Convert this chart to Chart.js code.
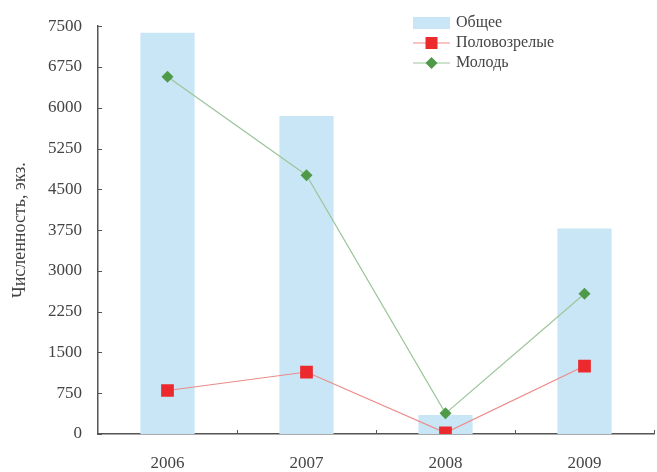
<!DOCTYPE html>
<html>
<head>
<meta charset="utf-8">
<script src="https://cdn.jsdelivr.net/npm/chart.js@4"></script>
<style>
  html, body { margin: 0; padding: 0; background: #fff; overflow: hidden; }
  #wrap { width: 657px; height: 472px; position: relative; overflow: hidden; }
</style>
</head>
<body>
<div id="wrap"><canvas id="chart" width="663" height="472"></canvas></div>
<script>
// data
const years = ['2006', '2007', '2008', '2009'];
const totalCount = [7380, 5850, 350, 3780];
const matureCount = [800, 1140, 20, 1250];
const youngCount = [6570, 4760, 380, 2580];
const yTicks = [0, 750, 1500, 2250, 3000, 3750, 4500, 5250, 6000, 6750, 7500];

const labels = ['Общее', 'Половозрелые', 'Молодь'];
const yTitle = 'Численность, экз.';

const FONT = '"Liberation Serif", "DejaVu Serif", serif';
const barColor = '#c9e6f6';
const redLine = '#ec8a88';
const redMark = '#ec2a2e';
const greenLine = '#9cc59a';
const greenMark = '#4f9a48';

// small inward tick marks on both axes + custom legend
const axisDecor = {
    id: 'axisDecor',
    afterDraw(chart) {
        const ctx = chart.ctx;
        const area = chart.chartArea;
        const y = chart.scales.y;
        ctx.save();
        ctx.strokeStyle = '#555';
        ctx.lineWidth = 1;
        ctx.beginPath();
        yTicks.forEach(v => {
            const py = Math.round(y.getPixelForValue(v)) + 0.5;
            ctx.moveTo(area.left, py);
            ctx.lineTo(area.left + 4, py);
        });
        for (let i = 1; i <= years.length; i++) {
            const px = Math.round(area.left + (area.right - area.left) * i / years.length) + 0.5;
            ctx.moveTo(px, area.bottom);
            ctx.lineTo(px, area.bottom - 4);
        }
        ctx.stroke();

        // legend
        const lx0 = 413, lx1 = 450, tx = 456;
        const rows = [23, 43, 63];
        ctx.font = '16px ' + FONT;
        ctx.textBaseline = 'middle';
        ctx.textAlign = 'left';

        ctx.fillStyle = barColor;
        ctx.fillRect(lx0, rows[0] - 6, lx1 - lx0, 12);

        ctx.strokeStyle = redLine;
        ctx.beginPath();
        ctx.moveTo(lx0, rows[1]); ctx.lineTo(lx1, rows[1]);
        ctx.stroke();
        ctx.fillStyle = redMark;
        ctx.fillRect((lx0 + lx1) / 2 - 6, rows[1] - 6, 12, 12);

        ctx.strokeStyle = greenLine;
        ctx.beginPath();
        ctx.moveTo(lx0, rows[2]); ctx.lineTo(lx1, rows[2]);
        ctx.stroke();
        ctx.fillStyle = greenMark;
        const cx = (lx0 + lx1) / 2;
        ctx.beginPath();
        ctx.moveTo(cx, rows[2] - 6);
        ctx.lineTo(cx + 6, rows[2]);
        ctx.lineTo(cx, rows[2] + 6);
        ctx.lineTo(cx - 6, rows[2]);
        ctx.closePath();
        ctx.fill();

        ctx.fillStyle = '#444';
        labels.forEach((t, i) => ctx.fillText(t, tx, rows[i]));
        ctx.restore();
    }
};

const config = {
    type: 'bar',
    data: {
        labels: years,
        datasets: [
            {
                type: 'line',
                label: labels[1],
                data: matureCount,
                borderColor: redLine,
                borderWidth: 1.2,
                backgroundColor: redMark,
                pointStyle: 'rect',
                pointRadius: 9,
                pointBorderWidth: 0,
                order: 1
            },
            {
                type: 'line',
                label: labels[2],
                data: youngCount,
                borderColor: greenLine,
                borderWidth: 1.2,
                backgroundColor: greenMark,
                pointStyle: 'rectRot',
                pointRadius: 6,
                pointBorderWidth: 0,
                order: 2
            },
            {
                label: labels[0],
                data: totalCount,
                backgroundColor: barColor,
                borderWidth: 0,
                categoryPercentage: 1,
                barPercentage: 0.39,
                order: 3
            }
        ]
    },
    options: {
        responsive: false,
        animation: false,
        layout: { padding: { top: 22, right: 2, left: 9, bottom: 0 } },
        plugins: {
            legend: { display: false },
            tooltip: { enabled: false }
        },
        scales: {
            x: {
                offset: true,
                grid: { display: false, drawTicks: false },
                border: { color: '#555', width: 1.5 },
                ticks: {
                    color: '#444',
                    font: { family: FONT, size: 17 },
                    padding: 19
                },
                afterFit(scale) { scale.height = 38; }
            },
            y: {
                min: 0,
                max: 7500,
                grid: { display: false, drawTicks: false },
                border: { color: '#555', width: 1.5 },
                afterBuildTicks(scale) {
                    scale.ticks = yTicks.map(v => ({ value: v }));
                },
                ticks: {
                    color: '#444',
                    font: { family: FONT, size: 17 },
                    padding: 16,
                    callback: v => String(v)
                },
                title: {
                    display: true,
                    text: yTitle,
                    color: '#444',
                    font: { family: FONT, size: 18 },
                    padding: { top: 0, bottom: 0 }
                },
                afterFit(scale) { scale.width = 89; }
            }
        }
    },
    plugins: [axisDecor]
};

new Chart(document.getElementById('chart').getContext('2d'), config);
</script>
</body>
</html>
